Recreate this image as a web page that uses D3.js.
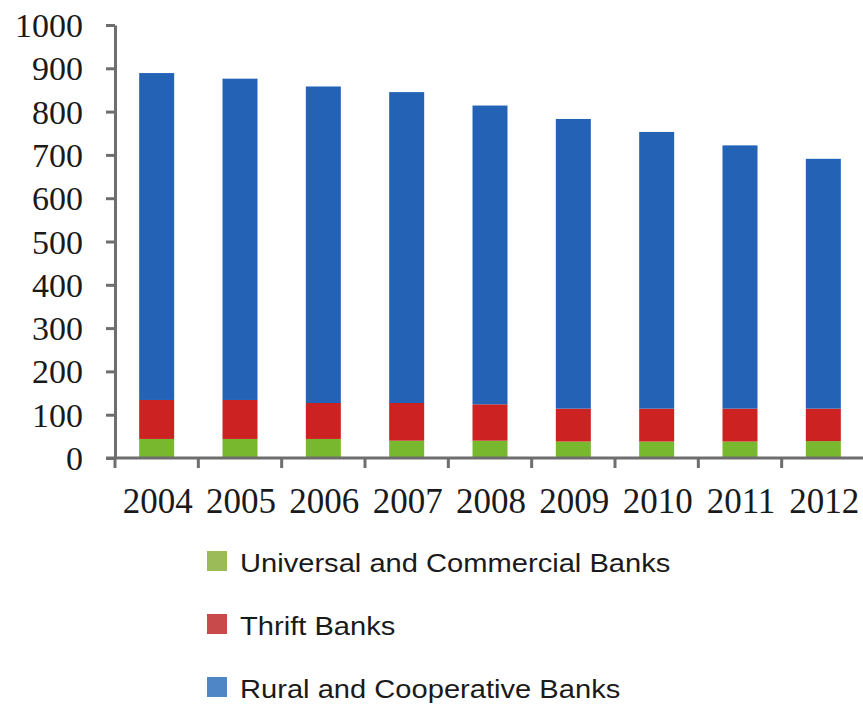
<!DOCTYPE html>
<html>
<head>
<meta charset="utf-8">
<script src="https://cdn.jsdelivr.net/npm/d3@7"></script>
<style>
  body { margin: 0; background: #fff; }
  .axis path, .axis line { stroke: #6e6e6e; stroke-width: 3px; }
  .axis text { font-family: "Liberation Serif", "Times New Roman", serif; font-size: 34px; fill: #1a1a1a; }
  .axis text.year { font-size: 35px; }
  .legend text { font-family: "Liberation Sans", Arial, sans-serif; font-size: 26px; fill: #1a1a1a; }
</style>
</head>
<body>
<svg id="chart" width="863" height="704"></svg>
<script>
var years = ["2004", "2005", "2006", "2007", "2008", "2009", "2010", "2011", "2012"];
var universal = [44, 44, 44, 40, 40, 38, 38, 38, 39];
var thrift = [90, 90, 83, 87, 84, 76, 76, 76, 75];
var rural = [755, 742, 731, 718, 690, 669, 639, 608, 577];
var yTicks = [0, 100, 200, 300, 400, 500, 600, 700, 800, 900, 1000];
var seriesNames = ["Universal and Commercial Banks", "Thrift Banks", "Rural and Cooperative Banks"];

(function() {
var barColors = ["#78b82e", "#cc2222", "#2462b6"],
  legendColors = ["#9bbb59", "#c94a4a", "#4f86c6"];

var svg = d3.select("#chart"),
  plotLeft = 115,
  plotRight = 865,
  plotTop = 25,
  plotBottom = 458,
  x = d3.scaleBand()
    .domain(years)
    .range([plotLeft, plotRight])
    .paddingInner(0.58)
    .paddingOuter(0.29),
  y = d3.scaleLinear()
    .domain([0, 1000])
    .range([plotBottom, plotTop]),
  rows = years.map(function(yr, i) {
    return {year: yr, universal: universal[i], thrift: thrift[i], rural: rural[i]};
  }),
  stack = d3.stack().keys(["universal", "thrift", "rural"]),
  layers = stack(rows);

svg.append("g")
  .selectAll("g")
  .data(layers)
  .enter()
  .append("g")
    .attr("fill", function(d, i) { return barColors[i]; })
  .selectAll("rect")
  .data(function(d) { return d; })
  .enter()
  .append("rect")
    .attr("x", function(d) { return x(d.data.year); })
    .attr("width", x.bandwidth())
    .attr("y", function(d) { return y(d[1]); })
    .attr("height", function(d) { return y(d[0]) - y(d[1]); });

// y axis
var yAxis = svg.append("g")
  .attr("class", "y axis")
  .attr("transform", "translate(" + plotLeft + ",0)")
  .call(d3.axisLeft(y)
    .tickValues(yTicks)
    .tickFormat(d3.format("d"))
    .tickSize(9)
    .tickSizeOuter(0)
    .tickPadding(23));
yAxis.selectAll("text").attr("dy", "0.34em");

// x axis, ticks sit on the category boundaries
var step = x.step(),
  boundaries = d3.range(years.length + 1).map(function(i) { return plotLeft + i * step; });

var xAxis = svg.append("g")
  .attr("class", "x axis");
xAxis.append("line")
  .attr("x1", plotLeft - 9)
  .attr("x2", plotRight)
  .attr("y1", plotBottom)
  .attr("y2", plotBottom);
xAxis.selectAll(".tick")
  .data(boundaries)
  .enter()
  .append("line")
    .attr("class", "tick")
    .attr("x1", function(d) { return d; })
    .attr("x2", function(d) { return d; })
    .attr("y1", plotBottom)
    .attr("y2", plotBottom + 10);
xAxis.selectAll(".year")
  .data(years)
  .enter()
  .append("text")
    .attr("class", "year")
    .attr("x", function(d) { return x(d) + x.bandwidth() / 2 + 1; })
    .attr("y", 513)
    .attr("text-anchor", "middle")
    .text(function(d) { return d; });

// legend
var legend = svg.append("g")
  .attr("class", "legend")
  .selectAll("g")
  .data(seriesNames)
  .enter()
  .append("g")
    .attr("transform", function(d, i) { return "translate(207," + (551 + i * 63) + ")"; });

legend.append("rect")
  .attr("width", 20)
  .attr("height", 20)
  .attr("fill", function(d, i) { return legendColors[i]; });

legend.append("text")
  .attr("transform", "translate(33,21) scale(1.12,1)")
  .text(function(d) { return d; });
})();
</script>
</body>
</html>
